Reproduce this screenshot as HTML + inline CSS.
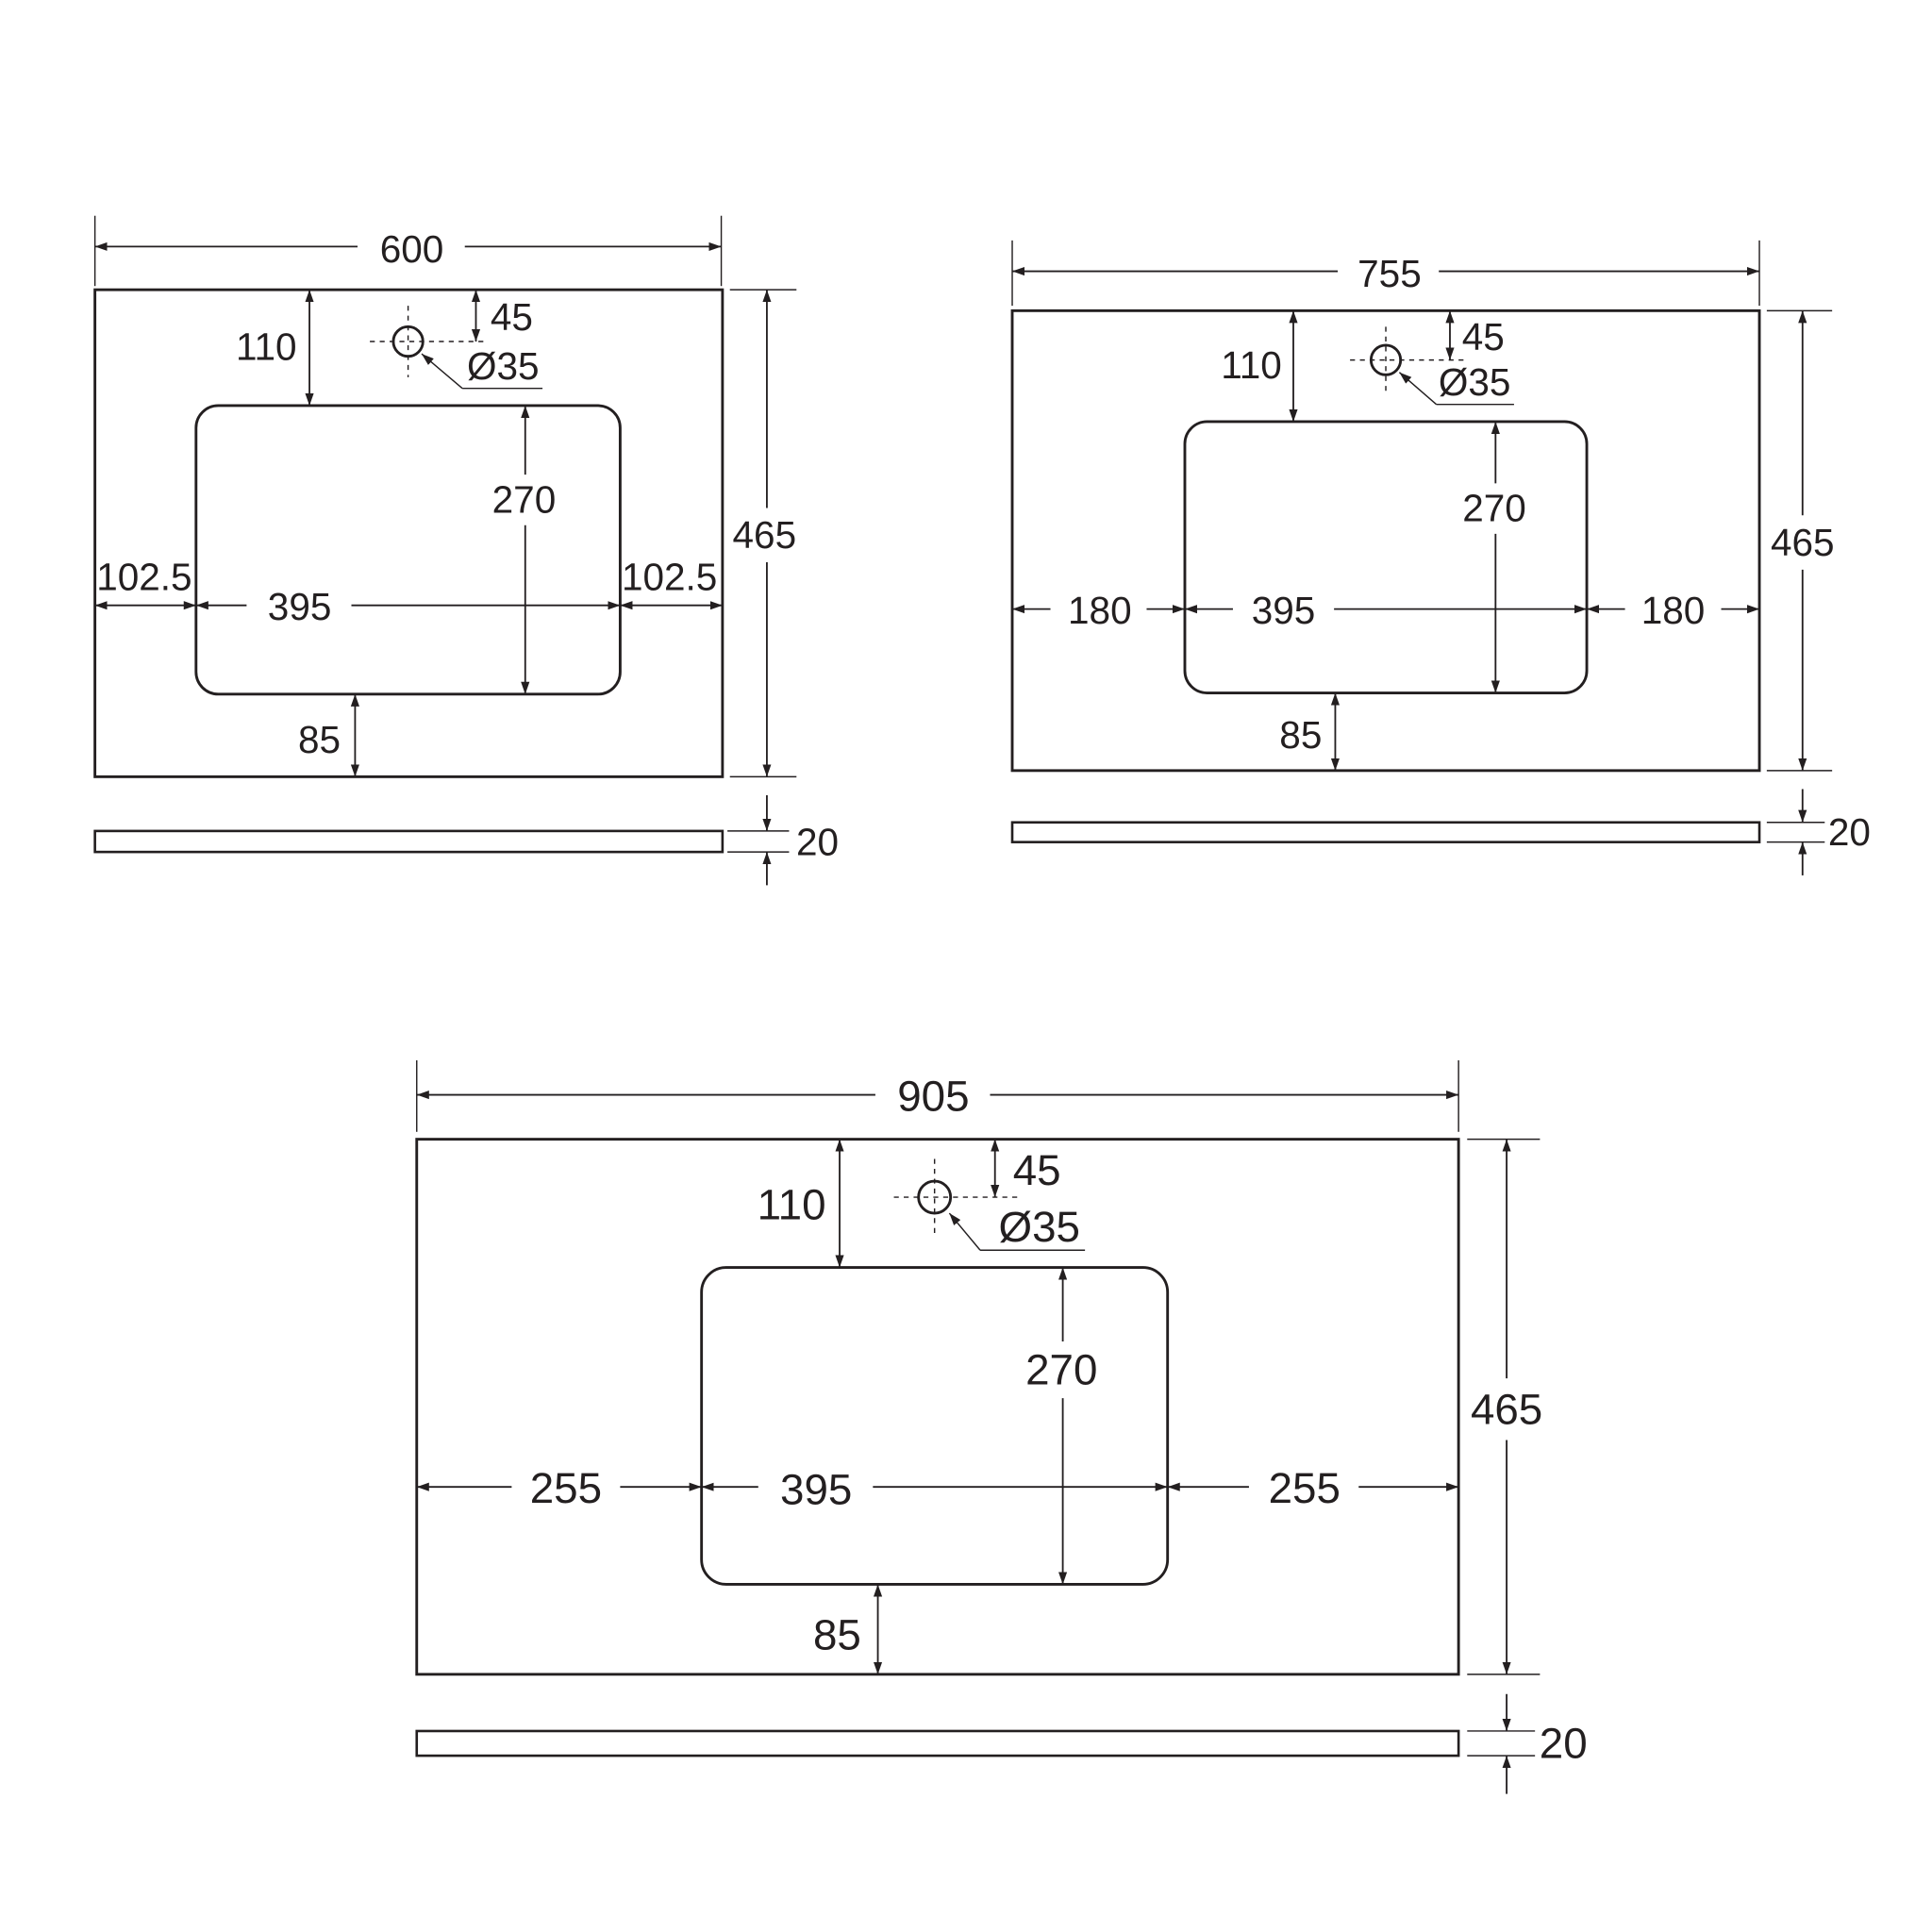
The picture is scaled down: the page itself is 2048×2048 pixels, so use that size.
<!DOCTYPE html>
<html><head><meta charset="utf-8"><style>
html,body{margin:0;padding:0;background:#fff;}
svg{display:block;}
text{font-family:"Liberation Sans",sans-serif;fill:#231f20;text-anchor:middle;dominant-baseline:central;}
</style></head><body>
<svg width="2048" height="2048" viewBox="0 0 1567 1567" xmlns="http://www.w3.org/2000/svg">
<defs>
<marker id="a" viewBox="0 0 10 10" refX="10" refY="5" markerWidth="10" markerHeight="10" markerUnits="userSpaceOnUse" orient="auto-start-reverse"><path d="M0,1.5 L10,5 L0,8.5 z" fill="#231f20"/></marker>
</defs>
<g stroke="#231f20" fill="none">
<!-- Diagram 1 -->
<rect x="77" y="235" width="509" height="395" stroke-width="2.2"/>
<rect x="159" y="329" width="344" height="234" rx="18" stroke-width="2.2"/>
<rect x="77" y="674" width="509" height="17" stroke-width="2"/>
<g stroke-width="1.1">
<line x1="77" y1="175" x2="77" y2="232"/><line x1="585" y1="175" x2="585" y2="232"/>
<line x1="592" y1="235" x2="646" y2="235"/><line x1="592" y1="630" x2="646" y2="630"/>
<line x1="590" y1="674" x2="640" y2="674"/><line x1="590" y1="691" x2="640" y2="691"/>
<line x1="300" y1="277" x2="395" y2="277" stroke-dasharray="4,4"/>
<line x1="331" y1="248" x2="331" y2="306" stroke-dasharray="4,4"/>
<polyline points="375,315 440,315"/><line x1="375" y1="315" x2="342" y2="287" marker-end="url(#a)"/>
</g>
<g stroke-width="1.4" marker-start="url(#a)" marker-end="url(#a)">
<line x1="77" y1="200" x2="290" y2="200" marker-end="none"/><line x1="377" y1="200" x2="585" y2="200" marker-start="none"/>
<line x1="622" y1="235" x2="622" y2="412" marker-end="none"/><line x1="622" y1="456" x2="622" y2="630" marker-start="none"/>
<line x1="251" y1="235" x2="251" y2="329"/>
<line x1="386" y1="235" x2="386" y2="277"/>
<line x1="426" y1="329" x2="426" y2="385" marker-end="none"/><line x1="426" y1="426" x2="426" y2="563" marker-start="none"/>
<line x1="159" y1="491" x2="200" y2="491" marker-end="none"/><line x1="285" y1="491" x2="503" y2="491" marker-start="none"/>
<line x1="77" y1="491" x2="159" y2="491"/><line x1="503" y1="491" x2="586" y2="491"/>
<line x1="288" y1="563" x2="288" y2="630"/>
<line x1="622" y1="645" x2="622" y2="674" marker-start="none"/><line x1="622" y1="691" x2="622" y2="718" marker-end="none"/>
</g>
<circle cx="331" cy="277" r="12" stroke-width="2.2"/>
<!-- Diagram 2 -->
<rect x="821" y="252" width="606" height="373" stroke-width="2.2"/>
<rect x="961" y="342" width="326" height="220" rx="18" stroke-width="2.2"/>
<rect x="821" y="667" width="606" height="16" stroke-width="2"/>
<g stroke-width="1.1">
<line x1="821" y1="195" x2="821" y2="248"/><line x1="1427" y1="195" x2="1427" y2="248"/>
<line x1="1433" y1="252" x2="1486" y2="252"/><line x1="1433" y1="625" x2="1486" y2="625"/>
<line x1="1433" y1="667" x2="1480" y2="667"/><line x1="1433" y1="683" x2="1480" y2="683"/>
<line x1="1095" y1="292" x2="1190" y2="292" stroke-dasharray="4,4"/>
<line x1="1124" y1="265" x2="1124" y2="320" stroke-dasharray="4,4"/>
<polyline points="1165,328 1228,328"/><line x1="1165" y1="328" x2="1135" y2="302" marker-end="url(#a)"/>
</g>
<g stroke-width="1.4" marker-start="url(#a)" marker-end="url(#a)">
<line x1="821" y1="220" x2="1085" y2="220" marker-end="none"/><line x1="1167" y1="220" x2="1427" y2="220" marker-start="none"/>
<line x1="1462" y1="252" x2="1462" y2="418" marker-end="none"/><line x1="1462" y1="462" x2="1462" y2="625" marker-start="none"/>
<line x1="1049" y1="252" x2="1049" y2="342"/>
<line x1="1176" y1="252" x2="1176" y2="292"/>
<line x1="1213" y1="342" x2="1213" y2="392" marker-end="none"/><line x1="1213" y1="433" x2="1213" y2="562" marker-start="none"/>
<line x1="821" y1="494" x2="852" y2="494" marker-end="none"/><line x1="930" y1="494" x2="961" y2="494" marker-start="none"/>
<line x1="961" y1="494" x2="1000" y2="494" marker-end="none"/><line x1="1082" y1="494" x2="1287" y2="494" marker-start="none"/>
<line x1="1287" y1="494" x2="1318" y2="494" marker-end="none"/><line x1="1396" y1="494" x2="1427" y2="494" marker-start="none"/>
<line x1="1083" y1="562" x2="1083" y2="625"/>
<line x1="1462" y1="640" x2="1462" y2="667" marker-start="none"/><line x1="1462" y1="683" x2="1462" y2="710" marker-end="none"/>
</g>
<circle cx="1124" cy="292" r="12" stroke-width="2.2"/>
<!-- Diagram 3 -->
<rect x="338" y="924" width="845" height="434" stroke-width="2.2"/>
<rect x="569" y="1028" width="378" height="257" rx="20" stroke-width="2.2"/>
<rect x="338" y="1404" width="845" height="20" stroke-width="2"/>
<g stroke-width="1.1">
<line x1="338" y1="860" x2="338" y2="918"/><line x1="1183" y1="860" x2="1183" y2="918"/>
<line x1="1190" y1="924" x2="1249" y2="924"/><line x1="1190" y1="1358" x2="1249" y2="1358"/>
<line x1="1190" y1="1404" x2="1245" y2="1404"/><line x1="1190" y1="1424" x2="1245" y2="1424"/>
<line x1="725" y1="971" x2="825" y2="971" stroke-dasharray="4,4"/>
<line x1="758" y1="940" x2="758" y2="1002" stroke-dasharray="4,4"/>
<polyline points="795,1014 880,1014"/><line x1="795" y1="1014" x2="770" y2="984" marker-end="url(#a)"/>
</g>
<g stroke-width="1.4" marker-start="url(#a)" marker-end="url(#a)">
<line x1="338" y1="888" x2="710" y2="888" marker-end="none"/><line x1="803" y1="888" x2="1183" y2="888" marker-start="none"/>
<line x1="1222" y1="924" x2="1222" y2="1118" marker-end="none"/><line x1="1222" y1="1168" x2="1222" y2="1358" marker-start="none"/>
<line x1="681" y1="924" x2="681" y2="1028"/>
<line x1="807" y1="924" x2="807" y2="971"/>
<line x1="862" y1="1028" x2="862" y2="1088" marker-end="none"/><line x1="862" y1="1134" x2="862" y2="1285" marker-start="none"/>
<line x1="338" y1="1206" x2="415" y2="1206" marker-end="none"/><line x1="503" y1="1206" x2="569" y2="1206" marker-start="none"/>
<line x1="569" y1="1206" x2="615" y2="1206" marker-end="none"/><line x1="708" y1="1206" x2="947" y2="1206" marker-start="none"/>
<line x1="947" y1="1206" x2="1013" y2="1206" marker-end="none"/><line x1="1102" y1="1206" x2="1183" y2="1206" marker-start="none"/>
<line x1="712" y1="1285" x2="712" y2="1358"/>
<line x1="1222" y1="1374" x2="1222" y2="1404" marker-start="none"/><line x1="1222" y1="1424" x2="1222" y2="1455" marker-end="none"/>
</g>
<circle cx="758" cy="971" r="13" stroke-width="2.2"/>
</g>
<!-- Text -->
<g font-size="31">
<text x="334" y="202">600</text>
<text x="620" y="434">465</text>
<text x="216" y="281">110</text>
<text x="415" y="257">45</text>
<text x="408" y="297">Ø35</text>
<text x="425" y="405">270</text>
<text x="243" y="492">395</text>
<text x="117" y="468">102.5</text>
<text x="543" y="468">102.5</text>
<text x="259" y="600">85</text>
<text x="663" y="683">20</text>
<text x="1127" y="222">755</text>
<text x="1462" y="440">465</text>
<text x="1015" y="296">110</text>
<text x="1203" y="273">45</text>
<text x="1196" y="310">Ø35</text>
<text x="1212" y="412">270</text>
<text x="892" y="495">180</text>
<text x="1041" y="495">395</text>
<text x="1357" y="495">180</text>
<text x="1055" y="596">85</text>
<text x="1500" y="675">20</text>
</g>
<g font-size="35">
<text x="757" y="889">905</text>
<text x="1222" y="1143">465</text>
<text x="642" y="977">110</text>
<text x="841" y="949">45</text>
<text x="843" y="995">Ø35</text>
<text x="861" y="1111">270</text>
<text x="459" y="1207">255</text>
<text x="662" y="1208">395</text>
<text x="1058" y="1207">255</text>
<text x="679" y="1326">85</text>
<text x="1268" y="1414">20</text>
</g>
</svg>
</body></html>
